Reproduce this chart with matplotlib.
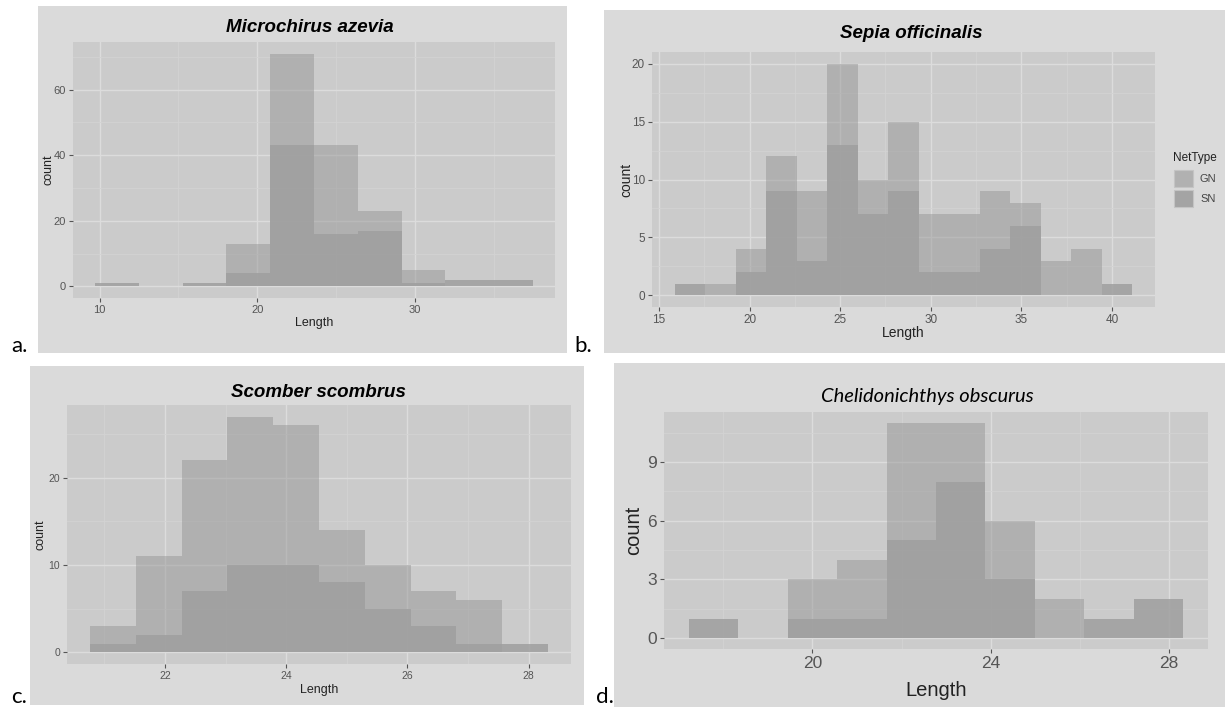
import numpy as np
import matplotlib
matplotlib.use('Agg')
import matplotlib.pyplot as plt
from matplotlib.patches import Rectangle
from matplotlib.ticker import MultipleLocator

# ---- data (GN / SN counts per bin) ----
titles = ['Microchirus azevia', 'Sepia officinalis', 'Scomber scombrus', 'Chelidonichthys obscurus']
panel_tags = ['a.', 'b.', 'c.', 'd.']

# first bin edge and bin width per species
bin_start = [9.70, 15.88, 20.76, 17.22]
bin_width = [2.78, 1.682, 0.756, 1.111]

gn_a = [0, 0, 0, 13, 71, 43, 23, 5, 0, 0]
sn_a = [1, 0, 1, 4, 43, 16, 17, 1, 2, 2]

gn_b = [0, 1, 4, 12, 9, 20, 10, 15, 7, 7, 9, 8, 3, 4, 0]
sn_b = [1, 0, 2, 9, 3, 13, 7, 9, 2, 2, 4, 6, 0, 0, 1]

gn_c = [3, 11, 22, 27, 26, 14, 10, 7, 6, 0]
sn_c = [1, 2, 7, 10, 10, 8, 5, 3, 1, 1]

gn_d = [0, 0, 3, 4, 11, 11, 6, 2, 0, 0]
sn_d = [1, 0, 1, 1, 5, 8, 3, 0, 1, 2]

gn_counts = [gn_a, gn_b, gn_c, gn_d]
sn_counts = [sn_a, sn_b, sn_c, sn_d]

x_major = [10, 5, 2, 4]
y_major = [20, 5, 10, 3]
legend_labels = ['GN', 'SN']

# ---- layout (pixel boxes in the 1225x707 picture) ----
W, H = 1225, 707
outer_px = [(38, 6, 567, 353), (604, 10, 1225, 353), (30, 366, 584, 705), (614, 363, 1225, 707)]
panel_px = [(73, 42, 555, 298), (652, 52, 1155, 307), (67, 405, 571, 664), (664, 412, 1208, 649)]
title_xy = [(310, 27), (911, 33), (318, 392), (927, 397)]
count_x = [48, 626, 40, 634]
length_y = [323, 333, 690, 690]
tag_xy = [(11, 352), (574, 352), (11, 703), (596, 703)]
tick_fs = [8, 8.5, 7.5, 12.5]
lab_fs = [9, 10, 9, 14.5]

OUTER = '#dadada'
PANEL = '#cbcbcb'
GN_COL, GN_A = '#979797', 0.5
SN_COL, SN_A = '#9f9f9f', 0.85
NARROW = ['Liberation Sans Narrow', 'Liberation Sans']


def fx(x):
    return x / W


def fy(y):
    return 1 - y / H


fig = plt.figure(figsize=(W / 100, H / 100), dpi=100)
fig.patch.set_facecolor('white')

for i in range(4):
    l, t, r, b = outer_px[i]
    fig.add_artist(Rectangle((fx(l), fy(b)), (r - l) / W, (b - t) / H,
                             transform=fig.transFigure, facecolor=OUTER, edgecolor='none', zorder=0))

    l, t, r, b = panel_px[i]
    ax = fig.add_axes([fx(l), fy(b), (r - l) / W, (b - t) / H])
    ax.set_facecolor(PANEL)
    for s in ax.spines.values():
        s.set_visible(False)

    gn = np.array(gn_counts[i])
    sn = np.array(sn_counts[i])
    edges = bin_start[i] + bin_width[i] * np.arange(len(gn) + 1)
    ax.bar(edges[:-1], gn, width=bin_width[i], align='edge', color=GN_COL, alpha=GN_A,
           linewidth=0, zorder=2)
    ax.bar(edges[:-1], sn, width=bin_width[i], align='edge', color=SN_COL, alpha=SN_A,
           linewidth=0, zorder=3)

    # ggplot style 5% expansion
    span = edges[-1] - edges[0]
    ax.set_xlim(edges[0] - 0.05 * span, edges[-1] + 0.05 * span)
    ymax = max(gn.max(), sn.max())
    ax.set_ylim(-0.05 * ymax, 1.05 * ymax)

    ax.xaxis.set_major_locator(MultipleLocator(x_major[i]))
    ax.xaxis.set_minor_locator(MultipleLocator(x_major[i] / 2))
    ax.yaxis.set_major_locator(MultipleLocator(y_major[i]))
    ax.yaxis.set_minor_locator(MultipleLocator(y_major[i] / 2))
    ax.grid(which='major', color='#dcdcdc', linewidth=1.0, zorder=1)
    ax.grid(which='minor', color='#d3d3d3', linewidth=0.6, zorder=1)
    ax.set_axisbelow(True)
    ax.tick_params(which='major', length=3, width=0.8, color='#555555', labelcolor='#555555',
                   labelsize=tick_fs[i], pad=2)
    ax.tick_params(which='minor', length=0)
    for lab in ax.get_xticklabels() + ax.get_yticklabels():
        lab.set_family(NARROW)

    # titles and axis labels
    if i < 3:
        fig.text(fx(title_xy[i][0]), fy(title_xy[i][1]), titles[i], ha='center', va='center',
                 fontsize=13.5, fontweight='bold', fontstyle='italic', family='Liberation Sans')
    else:
        fig.text(fx(title_xy[i][0]), fy(title_xy[i][1]), titles[i], ha='center', va='center',
                 fontsize=14.5, fontstyle='italic', family='Lato')
    fig.text(fx(count_x[i]), fy((t + b) / 2), 'count', rotation=90, ha='center', va='center',
             fontsize=lab_fs[i], family=NARROW, color='#222222')
    fig.text(fx((l + r) / 2), fy(length_y[i]), 'Length', ha='center', va='center',
             fontsize=lab_fs[i], family=NARROW, color='#222222')
    fig.text(fx(tag_xy[i][0]), fy(tag_xy[i][1]), panel_tags[i], ha='left', va='baseline',
             fontsize=16, family='Lato', color='black')

# legend for panel b, drawn by hand like the ggplot guide
fig.text(fx(1173), fy(158), 'NetType', ha='left', va='center', fontsize=8.5, family=NARROW,
         color='#222222')
key_cols = ['#b1b1b1', '#a4a4a4']
for k, lab in enumerate(legend_labels):
    top = 170 + 20 * k
    fig.add_artist(Rectangle((fx(1174), fy(top + 17)), 19 / W, 17 / H, transform=fig.transFigure,
                             facecolor=key_cols[k], edgecolor='#c4c4c4', linewidth=0.8))
    fig.text(fx(1200), fy(top + 8.5), lab, ha='left', va='center', fontsize=8, family=NARROW,
             color='#444444')

plt.savefig('out.png', dpi=100, facecolor='white')
